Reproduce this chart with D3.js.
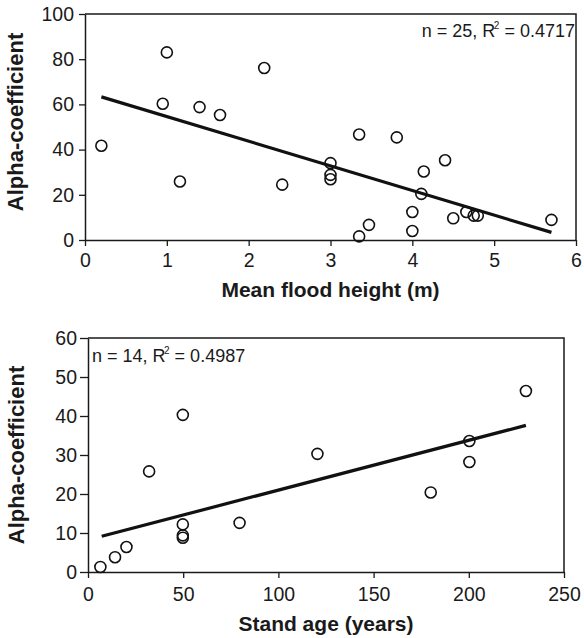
<!DOCTYPE html>
<html>
<head>
<meta charset="utf-8">
<script src="https://cdn.jsdelivr.net/npm/d3@7"></script>
<style>
  html, body { margin: 0; padding: 0; background: #fff; }
  svg text { font-family: Arial, "Liberation Sans", sans-serif; fill: #1a1a1a; }
</style>
</head>
<body>
<svg id="chart" width="584" height="638"></svg>
<script>
// Panel A: alpha-coefficient vs mean flood height
const floodHeight = [0.2, 1.0, 0.95, 1.16, 1.4, 1.65, 2.19, 2.41,
  3.35, 3.81, 3.0, 3.0, 3.0, 4.4, 4.14, 4.11, 4.0, 4.0, 3.35, 3.47, 4.5, 4.66, 4.75, 4.8, 5.7];
const floodAlpha = [41.7, 83, 60.3, 25.9, 58.8, 55.3, 76.1, 24.5,
  46.7, 45.4, 34, 28.8, 26.9, 35.3, 30.3, 20.4, 12.4, 4, 1.6, 6.7, 9.6, 12.4, 10.8, 10.8, 8.9];
const floodFit = { intercept: 65.5, slope: -10.9, from: 0.2, to: 5.7 };
const floodNote = { n: 25, r2: "0.4717" };
const floodXTicks = [0, 1, 2, 3, 4, 5, 6];
const floodYTicks = [0, 20, 40, 60, 80, 100];

// Panel B: alpha-coefficient vs stand age
const standAge = [6.5, 14.2, 20.2, 32.1, 49.8, 49.8, 49.8, 49.8, 79.6, 120.5, 180, 200.3, 200.3, 230];
const standAlpha = [1.3, 3.8, 6.4, 25.8, 40.3, 12.2, 9.4, 8.8, 12.6, 30.3, 20.4, 33.6, 28.2, 46.4];
const standFit = { intercept: 8.23, slope: 0.1277, from: 7.2, to: 230 };
const standNote = { n: 14, r2: "0.4987" };
const standXTicks = [0, 50, 100, 150, 200, 250];
const standYTicks = [0, 10, 20, 30, 40, 50, 60];

const svg = d3.select("#chart");
const ink = "#1a1a1a";
const fmt = d3.format("d");

function panel(cfg) {
  const g = svg.append("g");
  const x = d3.scaleLinear().domain(cfg.xDomain).range([cfg.left, cfg.right]);
  const y = d3.scaleLinear().domain(cfg.yDomain).range([cfg.bottom, cfg.top]);

  // frame (top and right edges)
  g.append("path")
    .attr("d", `M${cfg.left},${cfg.top}H${cfg.right}V${cfg.bottom}`)
    .attr("fill", "none").attr("stroke", ink).attr("stroke-width", 1.5);

  const xAxis = g.append("g")
    .attr("transform", `translate(0,${cfg.bottom})`)
    .call(d3.axisBottom(x).tickValues(cfg.xTicks).tickFormat(fmt)
      .tickSize(6).tickPadding(cfg.xPad).tickSizeOuter(0));
  const yAxis = g.append("g")
    .attr("transform", `translate(${cfg.left},0)`)
    .call(d3.axisLeft(y).tickValues(cfg.yTicks).tickFormat(fmt)
      .tickSize(cfg.yTick).tickPadding(cfg.yPad).tickSizeOuter(0));
  [xAxis, yAxis].forEach(a => {
    a.select(".domain").attr("stroke", ink).attr("stroke-width", 1.5);
    a.selectAll(".tick line").attr("stroke", ink).attr("stroke-width", 1.3);
    a.selectAll(".tick text").attr("font-size", 19.5)
      .attr("font-family", "Arial, 'Liberation Sans', sans-serif").attr("fill", ink);
  });

  // regression line
  const f = cfg.fit;
  g.append("line")
    .attr("x1", x(f.from)).attr("y1", y(f.intercept + f.slope * f.from))
    .attr("x2", x(f.to)).attr("y2", y(f.intercept + f.slope * f.to))
    .attr("stroke", "#111").attr("stroke-width", 3.2);

  // data points
  g.selectAll("circle.pt")
    .data(cfg.xs.map((v, i) => [v, cfg.ys[i]]))
    .join("circle")
    .attr("class", "pt")
    .attr("cx", d => x(d[0])).attr("cy", d => y(d[1]))
    .attr("r", 5.5)
    .attr("fill", "none").attr("stroke", "#111").attr("stroke-width", 1.6);

  // axis titles
  g.append("text")
    .attr("x", (cfg.left + cfg.right) / 2).attr("y", cfg.xTitleY)
    .attr("text-anchor", "middle").attr("font-size", 21).attr("font-weight", "bold")
    .text(cfg.xTitle);
  g.append("text")
    .attr("transform", `translate(${cfg.yTitleX},${(cfg.top + cfg.bottom) / 2 - cfg.yTitleShift}) rotate(-90)`)
    .attr("text-anchor", "middle").attr("font-size", 22).attr("font-weight", "bold")
    .text("Alpha-coefficient");

  // sample size and goodness of fit
  const note = g.append("text")
    .attr("x", cfg.noteX).attr("y", cfg.noteY)
    .attr("text-anchor", cfg.noteAnchor).attr("font-size", 18);
  note.append("tspan").text(`n = ${cfg.note.n}, R`);
  note.append("tspan").attr("font-size", 10).attr("dx", -1.5).attr("dy", -8).text("2");
  note.append("tspan").attr("dy", 8).text(` = ${cfg.note.r2}`);
}

panel({
  xs: floodHeight, ys: floodAlpha, fit: floodFit, note: floodNote,
  xDomain: [0, 6], yDomain: [0, 100], xTicks: floodXTicks, yTicks: floodYTicks,
  left: 85, right: 576, top: 14, bottom: 240,
  xPad: 7, yTick: 6, yPad: 5,
  xTitle: "Mean flood height (m)", xTitleY: 297,
  yTitleX: 23, yTitleShift: 5,
  noteX: 575, noteY: 37, noteAnchor: "end"
});

panel({
  xs: standAge, ys: standAlpha, fit: standFit, note: standNote,
  xDomain: [0, 250], yDomain: [0, 60], xTicks: standXTicks, yTicks: standYTicks,
  left: 88, right: 564, top: 338, bottom: 572,
  xPad: 9, yTick: 8, yPad: 3,
  xTitle: "Stand age (years)", xTitleY: 631,
  yTitleX: 23.5, yTitleShift: 0,
  noteX: 92, noteY: 361.5, noteAnchor: "start"
});
</script>
</body>
</html>
